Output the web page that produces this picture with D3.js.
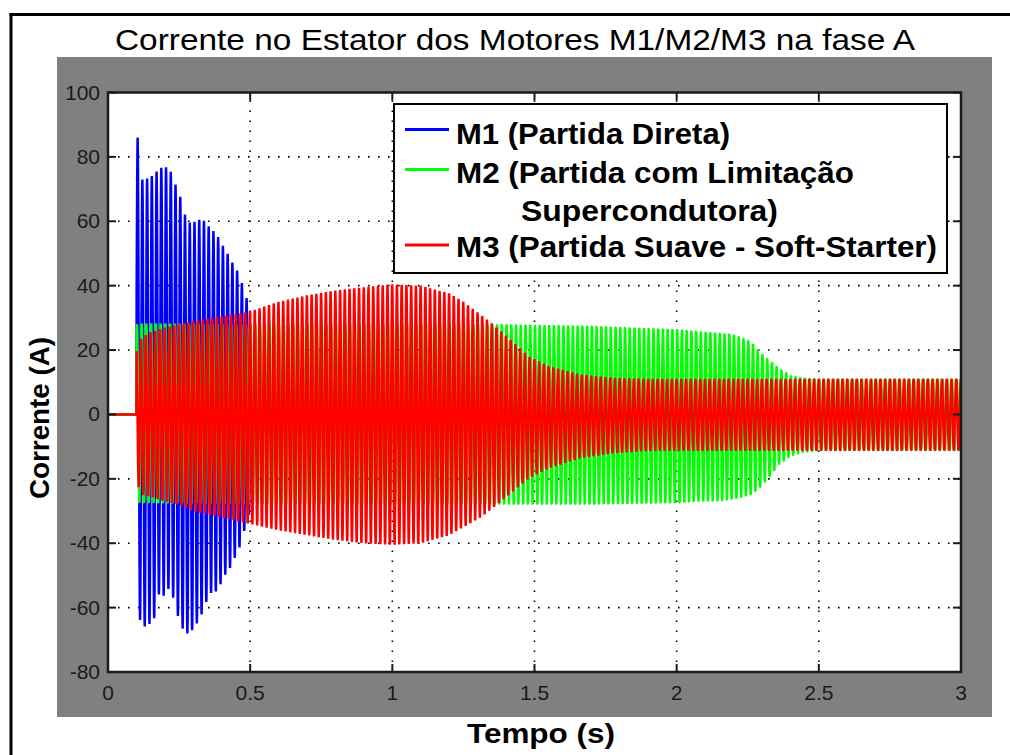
<!DOCTYPE html>
<html>
<head>
<meta charset="utf-8">
<script src="https://cdn.jsdelivr.net/npm/d3@7"></script>
<style>
  body { margin: 0; background: #fff; }
  svg { display: block; }
  text { font-family: "Liberation Sans", Arial, Helvetica, sans-serif; }
</style>
</head>
<body>
<svg id="fig" width="1010" height="755"></svg>
<script>
// ---- axis definitions ----
const xTicks = [0, 0.5, 1, 1.5, 2, 2.5, 3];
const xTickLabels = ["0", "0.5", "1", "1.5", "2", "2.5", "3"];
const yTicks = [-80, -60, -40, -20, 0, 20, 40, 60, 80, 100];
const yTickLabels = ["-80", "-60", "-40", "-20", "0", "20", "40", "60", "80", "100"];

// ---- phase-A stator current: 60 Hz supply, motors switched on at t = 0.1 s ----
const supplyHz = 60;
const switchOnTime = 0.1;

// M1, direct-on-line start: peak envelope (A)
const m1Time  = [0.100, 0.105, 0.113, 0.125, 0.148, 0.165, 0.183, 0.200, 0.218, 0.235, 0.253, 0.271, 0.288, 0.312, 0.330, 0.347, 0.365, 0.382, 0.400, 0.417, 0.435, 0.453, 0.470, 0.482, 0.500];
const m1Upper = [81, 87, 73, 73, 73.5, 75, 76.5, 77, 76, 72, 68, 62, 59.5, 60, 61, 59, 57.5, 56, 53, 50.5, 47.5, 45, 41, 38, 32];
const m1Lower = [-29, -45, -65, -66, -65, -63, -54, -57, -53, -59, -65, -68, -68, -65, -62, -58, -55, -55, -52, -49, -47, -43, -40, -35, -30];

// M2, start with superconducting fault-current limiter
const m2Time  = [0.100, 0.110, 0.500, 1.000, 1.380, 1.700, 2.010, 2.080, 2.150, 2.190, 2.220, 2.260, 2.290, 2.330, 2.360, 2.400, 2.440, 2.500, 3.000];
const m2Upper = [28, 28.3, 28, 28, 28, 27.5, 26.4, 25.8, 25.3, 25, 24.2, 22.7, 19.6, 16.5, 14.3, 12.1, 11.3, 11, 11];
const m2Lower = [-26, -27.5, -28, -28, -28, -28, -27.5, -27, -27, -26.5, -26, -25, -23, -19, -15.5, -13, -11.8, -11.2, -11.2];

// M3, soft-starter
const m3Time  = [0.100, 0.120, 0.150, 0.200, 0.250, 0.300, 0.400, 0.500, 0.600, 0.700, 0.800, 0.900, 1.000, 1.100, 1.200, 1.250, 1.310, 1.340, 1.410, 1.480, 1.550, 1.660, 1.780, 1.900, 3.000];
const m3Upper = [21, 24, 25.5, 27, 28, 29, 30.5, 32, 35, 37, 38.5, 39.5, 40.4, 40, 37.6, 35, 31, 29, 23.7, 18, 15, 12.4, 11.3, 11, 11];
const m3Lower = [-21, -25, -25.5, -27, -28, -30, -32, -34, -36, -37.5, -39, -40, -40.5, -40, -37.5, -35, -32, -30, -25, -19.8, -16.7, -13.6, -12, -11.3, -11.2];

// phase angle of each motor current at switch-on (degrees)
const seriesPhaseDeg = [0, 50, 100];

const seriesNames = ["M1 (Partida Direta)", "M2 (Partida com Limitação", "M3 (Partida Suave - Soft-Starter)"];
const seriesNameCont = "Supercondutora)";
const seriesColors = ["#0000ff", "#00ff00", "#ff0000"];

const titleText = "Corrente no Estator dos Motores M1/M2/M3 na fase A";
const xLabelText = "Tempo (s)";
const yLabelText = "Corrente (A)";

// ---- layout ----
const W = 1010, H = 755;
const plot = { left: 108, right: 961, top: 92.5, bottom: 672 };

const svg = d3.select("#fig");

// figure window frame
svg.append("rect").attr("x", 0).attr("y", 0).attr("width", W).attr("height", H).attr("fill", "#fff");
svg.append("rect").attr("x", 9.5).attr("y", 13).attr("width", 3).attr("height", H - 13).attr("fill", "#000");
svg.append("rect").attr("x", 9.5).attr("y", 13).attr("width", W - 9.5).attr("height", 3).attr("fill", "#000");

// grey axes background
svg.append("rect").attr("x", 57).attr("y", 57).attr("width", 992 - 57).attr("height", 717 - 57).attr("fill", "#808080");

const x = d3.scaleLinear().domain([0, 3]).range([plot.left, plot.right]);
const y = d3.scaleLinear().domain([-80, 100]).range([plot.bottom, plot.top]);

// white plot area
svg.append("rect")
  .attr("x", plot.left).attr("y", plot.top)
  .attr("width", plot.right - plot.left).attr("height", plot.bottom - plot.top)
  .attr("fill", "#fff");

// dotted grid
const grid = svg.append("g").attr("stroke", "#000").attr("stroke-width", 1.6)
  .attr("stroke-dasharray", "1.6,8.4").attr("fill", "none");
xTicks.slice(1, -1).forEach(v => {
  grid.append("line").attr("x1", x(v)).attr("x2", x(v)).attr("y1", plot.bottom).attr("y2", plot.top);
});
yTicks.slice(1, -1).forEach(v => {
  grid.append("line").attr("x1", plot.left).attr("x2", plot.right).attr("y1", y(v)).attr("y2", y(v));
});

// waveforms
svg.append("defs").append("clipPath").attr("id", "plotClip")
  .append("rect").attr("x", plot.left).attr("y", plot.top)
  .attr("width", plot.right - plot.left).attr("height", plot.bottom - plot.top);

const samplesPerCycle = 32;
function waveform(time, upper, lower, phaseDeg) {
  const up = d3.scaleLinear().domain(time).range(upper);
  const lo = d3.scaleLinear().domain(time).range(lower);
  const phi = phaseDeg * Math.PI / 180;
  const pts = [[0, 0], [switchOnTime, 0]];
  const end = time[time.length - 1];
  const n = Math.round((end - switchOnTime) * supplyHz * samplesPerCycle);
  for (let i = 1; i <= n; i++) {
    const t = switchOnTime + i / (supplyHz * samplesPerCycle);
    const u = up(t), l = lo(t);
    pts.push([t, (u + l) / 2 + (u - l) / 2 * Math.sin(2 * Math.PI * i / samplesPerCycle + phi)]);
  }
  return pts;
}

const line = d3.line().x(d => x(d[0])).y(d => y(d[1]));
const series = [
  waveform(m1Time, m1Upper, m1Lower, seriesPhaseDeg[0]),
  waveform(m2Time, m2Upper, m2Lower, seriesPhaseDeg[1]),
  waveform(m3Time, m3Upper, m3Lower, seriesPhaseDeg[2])
];
const gData = svg.append("g").attr("clip-path", "url(#plotClip)");
series.forEach((pts, k) => {
  gData.append("path").attr("d", line(pts))
    .attr("fill", "none").attr("stroke", seriesColors[k])
    .attr("stroke-width", 2.4).attr("stroke-linejoin", "bevel");
});

// box + inward ticks on all four sides
const tickLen = 8;
const axesInk = "#1a1a1a";
const ticks = svg.append("g").attr("stroke", axesInk).attr("stroke-width", 2);
xTicks.forEach(v => {
  ticks.append("line").attr("x1", x(v)).attr("x2", x(v)).attr("y1", plot.bottom).attr("y2", plot.bottom - tickLen);
  ticks.append("line").attr("x1", x(v)).attr("x2", x(v)).attr("y1", plot.top).attr("y2", plot.top + tickLen);
});
yTicks.forEach(v => {
  ticks.append("line").attr("x1", plot.left).attr("x2", plot.left + tickLen).attr("y1", y(v)).attr("y2", y(v));
  ticks.append("line").attr("x1", plot.right).attr("x2", plot.right - tickLen).attr("y1", y(v)).attr("y2", y(v));
});
svg.append("rect")
  .attr("x", plot.left).attr("y", plot.top)
  .attr("width", plot.right - plot.left).attr("height", plot.bottom - plot.top)
  .attr("fill", "none").attr("stroke", axesInk).attr("stroke-width", 2.5);

// tick labels
const tickFont = 21;
svg.append("g").selectAll("text").data(xTicks).join("text")
  .attr("x", d => x(d)).attr("y", plot.bottom + 28)
  .attr("text-anchor", "middle").attr("font-size", tickFont).attr("fill", axesInk)
  .text((d, i) => xTickLabels[i]);
svg.append("g").selectAll("text").data(yTicks).join("text")
  .attr("x", plot.left - 8).attr("y", d => y(d) + 7)
  .attr("text-anchor", "end").attr("font-size", tickFont).attr("fill", axesInk)
  .text((d, i) => yTickLabels[i]);

// title and axis labels
svg.append("text").attr("x", 115).attr("y", 50)
  .attr("font-size", 30).attr("fill", "#000")
  .attr("textLength", 800).attr("lengthAdjust", "spacingAndGlyphs")
  .text(titleText);
svg.append("text").attr("x", 467).attr("y", 743)
  .attr("font-size", 28).attr("font-weight", "bold").attr("fill", "#000")
  .attr("textLength", 148).attr("lengthAdjust", "spacingAndGlyphs")
  .text(xLabelText);
svg.append("text")
  .attr("transform", "translate(49,499) rotate(-90)")
  .attr("font-size", 28).attr("font-weight", "bold").attr("fill", "#000")
  .attr("textLength", 162).attr("lengthAdjust", "spacingAndGlyphs")
  .text(yLabelText);

// legend
const lg = svg.append("g");
lg.append("rect").attr("x", 394).attr("y", 104).attr("width", 947 - 394).attr("height", 273 - 104)
  .attr("fill", "#fff").attr("stroke", "#000").attr("stroke-width", 2);
const legendRows = [
  { name: seriesNames[0], color: seriesColors[0], lineY: 129.5, base: 143.5, len: 274 },
  { name: seriesNames[1], color: seriesColors[1], lineY: 169.5, base: 182.5, len: 398 },
  { name: seriesNames[2], color: seriesColors[2], lineY: 245, base: 256.5, len: 481 }
];
legendRows.forEach(r => {
  lg.append("line").attr("x1", 405).attr("x2", 449).attr("y1", r.lineY).attr("y2", r.lineY)
    .attr("stroke", r.color).attr("stroke-width", 3);
  lg.append("text").attr("x", 456).attr("y", r.base)
    .attr("font-size", 29).attr("font-weight", "bold").attr("fill", "#000")
    .attr("textLength", r.len).attr("lengthAdjust", "spacingAndGlyphs")
    .text(r.name);
});
lg.append("text").attr("x", 521).attr("y", 221)
  .attr("font-size", 29).attr("font-weight", "bold").attr("fill", "#000")
  .attr("textLength", 257).attr("lengthAdjust", "spacingAndGlyphs")
  .text(seriesNameCont);
</script>
</body>
</html>
